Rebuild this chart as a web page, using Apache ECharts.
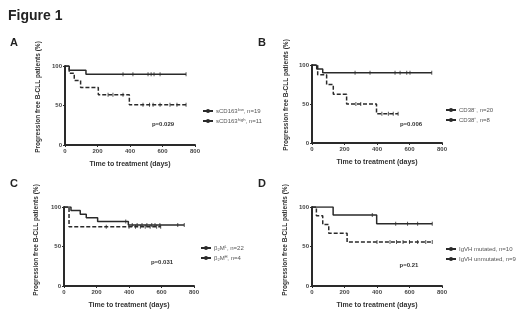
<!DOCTYPE html>
<html>
<head>
<meta charset="utf-8">
<script src="https://cdn.jsdelivr.net/npm/echarts@6/dist/echarts.min.js"></script>
<style>
html, body { margin: 0; padding: 0; background: #fff; }
#chart { width: 520px; height: 318px; }
</style>
</head>
<body>
<div id="chart"></div>
<script>
// axis ticks
var timeTicks = [0, 200, 400, 600, 800];
var survTicks = [0, 50, 100];

// A: sCD163
var aLowTime = [0, 26, 129, 745];
var aLowSurv = [100, 94.7, 89.5, 89.5];
var aLowCens = [357, 418, 511, 530, 548, 585, 745];
var aHighTime = [0, 26, 57, 96, 205, 396, 745];
var aHighSurv = [100, 90.9, 81.8, 72.7, 63.6, 50.9, 50.9];
var aHighCens = [265, 295, 357, 480, 520, 542, 585, 646, 689, 745];

// B: CD38
var bNegTime = [0, 29, 66, 737];
var bNegSurv = [100, 95, 90, 90];
var bNegCens = [265, 357, 511, 542, 583, 603, 737];
var bPosTime = [0, 35, 90, 131, 213, 397, 530];
var bPosSurv = [100, 87.5, 75, 62.5, 50, 37.5, 37.5];
var bPosCens = [270, 300, 430, 470, 500, 530];

// C: beta2M
var cLowTime = [0, 43, 100, 137, 207, 396, 740];
var cLowSurv = [100, 95.5, 90.9, 86.4, 81.8, 77.3, 77.3];
var cLowCens = [380, 420, 450, 480, 510, 540, 560, 590, 700, 740];
var cHighTime = [0, 31, 595];
var cHighSurv = [100, 75, 75];
var cHighCens = [260, 400, 440, 470, 500, 530, 570, 595];

// D: IgVH
var dMutTime = [0, 130, 398, 740];
var dMutSurv = [100, 90, 78.75, 78.75];
var dMutCens = [371, 515, 588, 650, 740];
var dUnmTime = [0, 27, 66, 103, 216, 740];
var dUnmSurv = [100, 88.9, 77.8, 66.7, 55.6, 55.6];
var dUnmCens = [400, 480, 520, 560, 600, 650, 700, 740];

var panels = [
  { letter: 'A', p: 'p=0.029', names: ['sCD163ˡᵒʷ, n=19', 'sCD163ʰⁱᵍʰ, n=11'],
    solid: [aLowTime, aLowSurv, aLowCens], dashed: [aHighTime, aHighSurv, aHighCens],
    grid: { left: 65, top: 66, width: 130, height: 79 },
    legend: { left: 197, top: 103 }, pPos: [163, 124], yTitle: [38, 97], lPos: [14, 43] },
  { letter: 'B', p: 'p=0.006', names: ['CD38⁻, n=20', 'CD38⁺, n=8'],
    solid: [bNegTime, bNegSurv, bNegCens], dashed: [bPosTime, bPosSurv, bPosCens],
    grid: { left: 312, top: 65, width: 130, height: 78 },
    legend: { left: 440, top: 102 }, pPos: [411, 124], yTitle: [286, 95], lPos: [262, 43] },
  { letter: 'C', p: 'p=0.031', names: ['β₂Mᴸ, n=22', 'β₂Mᴴ, n=4'],
    solid: [cLowTime, cLowSurv, cLowCens], dashed: [cHighTime, cHighSurv, cHighCens],
    grid: { left: 64, top: 207, width: 130, height: 79 },
    legend: { left: 195, top: 240 }, pPos: [162, 262], yTitle: [36, 240], lPos: [14, 184] },
  { letter: 'D', p: 'p=0.21', names: ['IgVH mutated, n=10', 'IgVH unmutated, n=9'],
    solid: [dMutTime, dMutSurv, dMutCens], dashed: [dUnmTime, dUnmSurv, dUnmCens],
    grid: { left: 312, top: 207, width: 130, height: 79 },
    legend: { left: 440, top: 241 }, pPos: [409, 265], yTitle: [285, 240], lPos: [262, 184] }
];

var font = 'Liberation Sans, Arial, sans-serif';
var ink = '#2a2a2a';

// survival level at time t (step curve)
function survAt(times, surv, t) {
  var s = surv[0];
  for (var i = 0; i < times.length; i++) {
    if (times[i] <= t) s = surv[i];
  }
  return s;
}
function pairs(times, surv) {
  return times.map(function (t, i) { return [t, surv[i]]; });
}
function censPairs(curve) {
  return curve[2].map(function (t) { return [t, survAt(curve[0], curve[1], t)]; });
}

var grids = [], xAxes = [], yAxes = [], legends = [], series = [], graphics = [];

graphics.push({ type: 'text', left: 8, top: 9,
  style: { text: 'Figure 1', font: 'bold 14px ' + font, fill: '#222' } });

panels.forEach(function (pn, i) {
  grids.push(pn.grid);
  xAxes.push({
    gridIndex: i, type: 'value',
    min: timeTicks[0], max: timeTicks[timeTicks.length - 1], interval: timeTicks[1] - timeTicks[0],
    name: 'Time to treatment (days)', nameLocation: 'middle', nameGap: 16,
    nameTextStyle: { fontSize: 7, fontWeight: 'bold', color: '#333', fontFamily: font },
    axisLine: { lineStyle: { color: ink, width: 2 } },
    axisTick: { length: 2, lineStyle: { color: ink, width: 1 } },
    axisLabel: { fontSize: 6, margin: 3, color: '#444', fontWeight: 'bold', fontFamily: font },
    splitLine: { show: false }
  });
  yAxes.push({
    gridIndex: i, type: 'value',
    min: survTicks[0], max: survTicks[survTicks.length - 1], interval: survTicks[1] - survTicks[0],
    axisLine: { show: true, lineStyle: { color: ink, width: 2 } },
    axisTick: { show: true, length: 2, lineStyle: { color: ink, width: 1 } },
    axisLabel: { fontSize: 6, margin: 3, color: '#444', fontWeight: 'bold', fontFamily: font },
    splitLine: { show: false }
  });
  legends.push({
    left: pn.legend.left, top: pn.legend.top, orient: 'vertical',
    itemWidth: 10, itemHeight: 5, itemGap: 4,
    data: pn.names, selectedMode: false,
    textStyle: { fontSize: 6, color: '#555', fontFamily: font, padding: [0, 0, 0, -2] }
  });
  series.push({
    name: pn.names[0], type: 'line', step: 'end', xAxisIndex: i, yAxisIndex: i,
    data: pairs(pn.solid[0], pn.solid[1]), symbol: 'none',
    lineStyle: { color: ink, width: 1.5 }, itemStyle: { color: ink }
  });
  series.push({
    name: pn.names[1], type: 'line', step: 'end', xAxisIndex: i, yAxisIndex: i,
    data: pairs(pn.dashed[0], pn.dashed[1]), symbol: 'none',
    lineStyle: { color: ink, width: 1.5, type: [4, 2] }, itemStyle: { color: ink }
  });
  [pn.solid, pn.dashed].forEach(function (c) {
    series.push({
      type: 'scatter', xAxisIndex: i, yAxisIndex: i, data: censPairs(c),
      symbol: 'rect', symbolSize: [1, 4], itemStyle: { color: ink }, silent: true
    });
  });
  graphics.push({ type: 'text', x: pn.lPos[0], y: pn.lPos[1],
    style: { text: pn.letter, font: 'bold 11px ' + font, fill: '#222', align: 'center', verticalAlign: 'middle' } });
  graphics.push({ type: 'text', x: pn.pPos[0], y: pn.pPos[1],
    style: { text: pn.p, font: 'bold 6px ' + font, fill: '#333', align: 'center', verticalAlign: 'middle' } });
  graphics.push({ type: 'text', x: pn.yTitle[0], y: pn.yTitle[1], rotation: Math.PI / 2,
    style: { text: 'Progression free B-CLL patients (%)', font: 'bold 6.5px ' + font, fill: '#333',
      align: 'center', verticalAlign: 'middle' } });
});

var myChart = echarts.init(document.getElementById('chart'));
myChart.setOption({
  animation: false,
  backgroundColor: '#fff',
  grid: grids,
  xAxis: xAxes,
  yAxis: yAxes,
  legend: legends,
  series: series,
  graphic: graphics
});
</script>
</body>
</html>
